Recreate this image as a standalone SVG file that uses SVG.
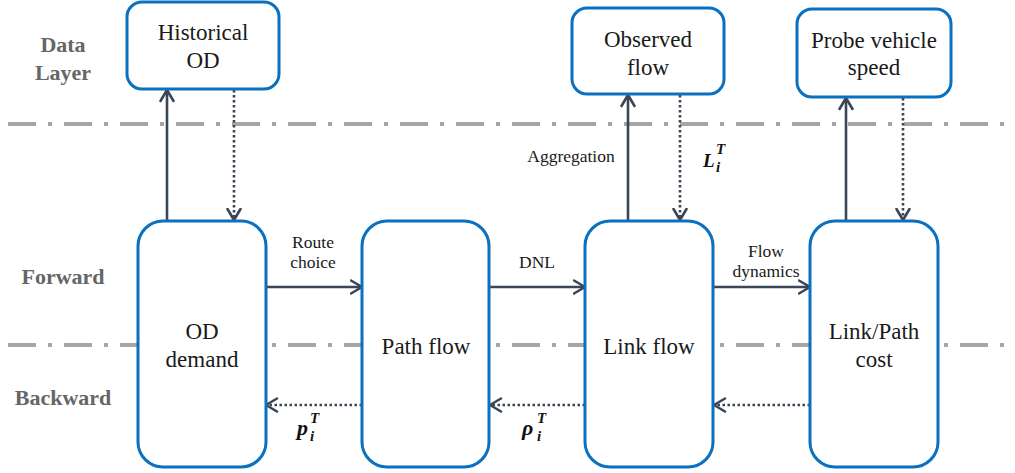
<svg xmlns="http://www.w3.org/2000/svg" width="1015" height="473" viewBox="0 0 1015 473">
<defs>
<marker id="arr" viewBox="0 0 14 16" refX="12.5" refY="8" markerWidth="14" markerHeight="16" markerUnits="userSpaceOnUse" orient="auto">
<path d="M1.5,1.5 L12.5,8 L1.5,14.5" fill="none" stroke="#3a4556" stroke-width="2.6" stroke-linecap="round" stroke-linejoin="round"/>
</marker>
<style>
text{font-family:'Liberation Serif','Times New Roman',serif}
.box{fill:#fff;stroke:#0a70c0;stroke-width:3}
.t{font-size:23px;fill:#1a1a1a;text-anchor:middle}
.s{font-size:17.5px;fill:#1a1a1a;text-anchor:middle}
.lay{font-size:22px;font-weight:bold;fill:#666;text-anchor:middle}
.m{font-weight:bold;font-style:italic;fill:#111}
.sep{stroke:#a6a6a6;stroke-width:4;stroke-dasharray:28 12 4 12;fill:none}
.solid{stroke:#3a4556;stroke-width:2.6;fill:none;marker-end:url(#arr)}
.dot{stroke:#3a4556;stroke-width:2.6;fill:none;stroke-dasharray:2.5 2.5;marker-end:url(#arr)}
</style>
</defs>
<rect width="1015" height="473" fill="#fff"/>
<g id="separators">
<line class="sep" x1="8" y1="124" x2="1015" y2="124"/>
<line class="sep" x1="8" y1="345" x2="1015" y2="345"/>
</g>
<g id="layer-labels">
<text class="lay" x="63" y="52">Data</text>
<text class="lay" x="63" y="80">Layer</text>
<text class="lay" x="63" y="284">Forward</text>
<text class="lay" x="63" y="405">Backward</text>
</g>
<g id="connectors">
<line class="solid" x1="167" y1="221" x2="167" y2="90"/>
<line class="dot" x1="234" y1="90" x2="234" y2="220"/>
<line class="solid" x1="628" y1="221" x2="628" y2="95"/>
<line class="dot" x1="680" y1="95" x2="680" y2="220"/>
<line class="solid" x1="846" y1="221" x2="846" y2="98"/>
<line class="dot" x1="903" y1="98" x2="903" y2="220"/>
<line class="solid" x1="266" y1="287" x2="362" y2="287"/>
<line class="solid" x1="489" y1="287" x2="585" y2="287"/>
<line class="solid" x1="714" y1="287" x2="810" y2="287"/>
<line class="dot" x1="362" y1="405" x2="266" y2="405"/>
<line class="dot" x1="585" y1="405" x2="490" y2="405"/>
<line class="dot" x1="810" y1="405" x2="714" y2="405"/>
</g>
<g id="edge-labels">
<text class="s" x="313" y="248">Route</text>
<text class="s" x="313" y="268">choice</text>
<text class="s" x="537" y="268">DNL</text>
<text class="s" x="766" y="257">Flow</text>
<text class="s" x="766" y="277">dynamics</text>
<text class="s" x="571" y="162">Aggregation</text>
<text class="m" x="703" y="167" font-size="19">L</text>
<text class="m" x="716" y="154" font-size="15">T</text>
<text class="m" x="716" y="172" font-size="15">i</text>
<text class="m" x="297" y="435" font-size="22">p</text>
<text class="m" x="310" y="423" font-size="15">T</text>
<text class="m" x="310" y="441" font-size="15">i</text>
<text class="m" x="522" y="435" font-size="22">ρ</text>
<text class="m" x="537" y="423" font-size="15">T</text>
<text class="m" x="537" y="441" font-size="15">i</text>
</g>
<g id="historical-od">
<rect class="box" x="127" y="2" width="152" height="87" rx="15"/>
<text class="t" x="203" y="40">Historical</text>
<text class="t" x="203" y="68">OD</text>
</g>
<g id="observed-flow">
<rect class="box" x="572" y="8" width="152" height="86" rx="15"/>
<text class="t" x="648" y="47">Observed</text>
<text class="t" x="648" y="75">flow</text>
</g>
<g id="probe-speed">
<rect class="box" x="797" y="9" width="154" height="88" rx="15"/>
<text class="t" x="874" y="48">Probe vehicle</text>
<text class="t" x="874" y="75">speed</text>
</g>
<g id="od-demand">
<rect class="box" x="138" y="221" width="128" height="246" rx="25"/>
<text class="t" x="202" y="339">OD</text>
<text class="t" x="202" y="367">demand</text>
</g>
<g id="path-flow">
<rect class="box" x="362" y="221" width="127" height="246" rx="25"/>
<text class="t" x="426" y="354">Path flow</text>
</g>
<g id="link-flow">
<rect class="box" x="585" y="221" width="128" height="246" rx="25"/>
<text class="t" x="649" y="354">Link flow</text>
</g>
<g id="link-path-cost">
<rect class="box" x="810" y="221" width="128" height="246" rx="25"/>
<text class="t" x="874" y="339">Link/Path</text>
<text class="t" x="874" y="367">cost</text>
</g>
</svg>
